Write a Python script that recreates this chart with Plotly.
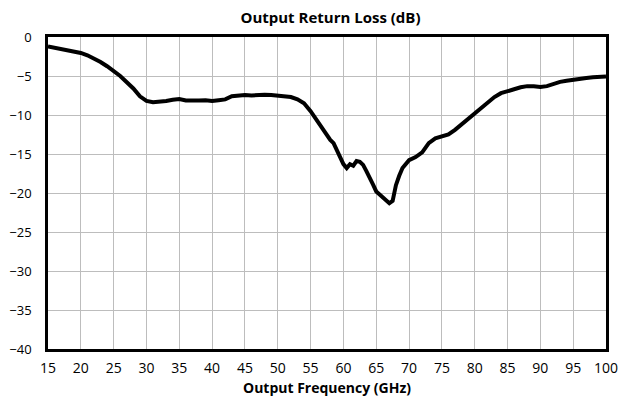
import plotly.graph_objs as go

# output return loss
freq_ghz = [
    15, 16, 17, 18, 19, 20, 21, 22, 23, 24, 25, 26, 27, 28, 29, 30,
    31, 32, 33, 34, 35, 36, 37, 38, 39, 40, 41, 42, 43, 44, 45, 46,
    47, 48, 49, 50, 51, 52, 53, 54, 55, 56, 57, 58, 58.5, 59, 59.5, 60,
    60.5, 61, 61.5, 62, 62.5, 63, 63.5, 64, 64.5, 65, 65.5, 66, 66.5, 67,
    67.5, 68, 68.5, 69, 70, 71, 72, 73, 74, 75, 76, 77, 78, 79, 80,
    81, 82, 83, 84, 85, 86, 87, 88, 89, 90, 91, 92, 93, 94, 95, 96,
    97, 98, 99, 100,
]
return_loss_db = [
    -1.2, -1.35, -1.5, -1.65, -1.85, -2.05, -2.35, -2.75, -3.2, -3.75, -4.35, -5.0, -5.8, -6.6, -7.6, -8.2,
    -8.35, -8.3, -8.2, -8.05, -7.95, -8.15, -8.2, -8.15, -8.1, -8.2, -8.1, -8.0, -7.6, -7.5, -7.45, -7.5,
    -7.4, -7.4, -7.45, -7.5, -7.55, -7.7, -8.0, -8.5, -9.5, -10.8, -12.0, -13.2, -13.6, -14.5, -15.2, -16.3,
    -16.8, -16.3, -16.5, -15.9, -16.0, -16.4, -17.2, -18.2, -18.9, -19.8, -20.2, -20.6, -21.0, -21.3,
    -21.0, -19.0, -17.8, -16.8, -15.8, -15.4, -14.8, -13.6, -13.0, -12.8, -12.5, -11.9, -11.2, -10.5, -9.7,
    -9.0, -8.3, -7.7, -7.2, -6.9, -6.7, -6.45, -6.3, -6.3, -6.4, -6.3, -6.0, -5.75, -5.6, -5.45, -5.35,
    -5.25, -5.15, -5.05, -5.05,
]

x_ticks = list(range(15, 101, 5))
y_ticks = list(range(-40, 1, 5))

font = "Open Sans, Liberation Sans, sans-serif"

fig = go.Figure()
fig.add_trace(
    go.Scatter(
        x=freq_ghz,
        y=return_loss_db,
        mode="lines",
        line={"color": "black", "width": 4},
        showlegend=False,
    )
)
# page body has an 8px margin, so the figure is 8px smaller than the window
fig.update_layout(
    title={
        "text": "<b>Output Return Loss (dB)</b>",
        "x": 0.5127,
        "xref": "container",
        "xanchor": "center",
        "y": 0.975,
        "yanchor": "middle",
        "font": {"size": 15, "color": "black", "family": font},
    },
    width=629,
    height=397,
    paper_bgcolor="white",
    plot_bgcolor="white",
    margin={"l": 40, "r": 31, "t": 29, "b": 56},
    font={"family": font, "size": 14, "color": "black"},
)
fig.update_xaxes(
    range=[15, 100],
    tickvals=x_ticks,
    automargin=False,
    showgrid=True,
    gridcolor="#bdbdbd",
    gridwidth=1,
    showline=True,
    linecolor="black",
    linewidth=2.5,
    mirror=True,
    zeroline=False,
    ticks="",
    ticklabelstandoff=4,
    title={"text": "<b>Output Frequency (GHz)</b>", "font": {"size": 14}, "standoff": 8},
)
fig.update_yaxes(
    range=[-40, 0],
    tickvals=y_ticks,
    tickfont={"size": 13},
    automargin=False,
    showgrid=True,
    gridcolor="#bdbdbd",
    gridwidth=1,
    showline=True,
    linecolor="black",
    linewidth=2.5,
    mirror=True,
    zeroline=False,
    ticks="",
    ticklabelstandoff=11,
)
fig.write_html("out.html")
